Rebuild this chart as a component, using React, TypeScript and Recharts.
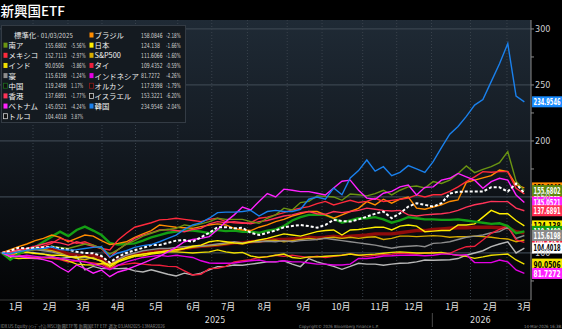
import React from 'react';
import { LineChart, Line, XAxis, YAxis, ReferenceLine } from 'recharts';

// ---------- data (normalised, 03/01/2025 = 100, weekly) ----------
const ZA = [100,99,101,102,103,104,106,105,104,106, 108,107,104,99,103,108,111,115,117.6,120, 121,122,125,124,126,128,131,130,130,130, 128,126.5,131,134,140,138.4,145,146,151,150.5, 150,147,152.7,152,151,153,156,151.8,156,159, 159.8,158,163.7,162,165,171,177.7,171.7,174.7,177, 180.6,190.5,164,155.6802];
const MX = [100,100.5,101,103,104,106,108.6,113,111,108.6, 110,107,104,102.7,111.6,117.6,123,125,127,129.5, 130,131,130,129,128,130,131,128,127,126.5, 127,131,132,134,136,138.4,140,141.4,144,146, 142.9,145,147,145,146,148.8,146,147,148,149, 151.8,150,152,152,155,159,163.7,168,172.6,172, 172.6,172.6,157.8,152.7113];
const IN = [100,96,95,95.5,95,96,96,95,93,90, 89.5,89.3,90.5,90,92,94.5,97,97.5,99,100, 101,101,100.5,100,100.5,101,102.7,101,100,100.5, 97.3,96,96.7,98,99,96,95.2,96.5,96.5,97, 97.5,98,99,98,98.5,99,99.7,100.5,101,100.5, 100,100,100,100.5,99,98,97,95.2,96.5,98, 98.5,99,93.75,90.0506];
const AU = [100,100,101,102,103,102,101,99,97,96, 96,95,93,89,94,98,100,102,103,104, 104,105,105.5,106,106,107,108,109,110,109, 110,110,110.5,110,111,110,111,111.5,112,113, 112,111,110,109,108,107,105.5,104.2,105.6,106, 106.5,105.6,108.6,109,110,112,114,115,116,118, 119,123,113,115.6198];
const CN = [100,94,99,103,105,110,114.6,119,115,120.5, 123.5,120,116,109,107.5,108,108.6,111,114,116, 118,119,120,120,119,117.6,120.5,119.5,120,119, 119,118,120,121,124,129,132,134,134,134, 131,127,129,131,131,132,130,127,129,132, 131,130,130,129.5,129.5,130,129,128,127,126, 126.5,124,117.6,119.2498];
const HK = [100,101,103,104,106,108,110,109,107,110, 108,106,104,96,103,108,113,116,118,120.5, 121,120,119,121,122,126,128,127,128,127, 126,128,129,131,133,134,136,137,135,134.5, 137,136,137,138,140,139,138,137.5,138,134, 133,134,134.5,135,136,138,141,143,144.4,146, 145.8,145.8,140,137.6891];
const VN = [100,96.7,97,96,95.2,94,92,87,83,89.3, 86,81.9,84.8,78.8,83,85,88,91,94,97, 101,105,110,112,113,114.6,121,128,134,141, 138.4,146,153,150,157,156,154.8,154.8,153.3,151.8, 158,164,165,156,149,148,153.3,155,159,160.7, 151.8,158.6,159,165,166.7,171,168,165,157.8,163.7, 166.7,165,151.8,145.0521];
const TR = [100,101,102,101,100,99,97,95,96,97, 84.8,88,86,86.3,86,86.3,84,83,85,83, 81,79.5,82,80.4,82,85,87.8,88,89.3,89, 90,91,92,92,93,90,87.8,95,92,90, 88,85.4,88,90.8,90,90,89,90,90.8,91, 92,93.75,93.5,93.75,94,95,98,100,102,105.6, 108,110,100,104.4018];
const BR = [100,103,105.6,108,111,113,116,114,110,113, 116,115,111,107.5,108.6,110,114,117,120,125, 124,123,122.5,122,123.5,125,126,125,122,120.5, 120,123,125,128,130,133,135,137,137,134, 131,134,137,139.8,145.8,142.9,148,144.4,148,150, 140,139,141,143,146,147.3,163,165,167,169, 174,172.6,160.7,158.0846];
const JP = [100,99,100,100.5,99.5,99,98,98,97,96, 97,95,93,88,93,96,98,99,100,101, 102,103,104,106,107,110,111,110,109,108.6, 110,111.6,113,115,117,116,115,117,119,120, 120.5,116,120.5,121,122,123,123,120.5,124,125, 124,119,119.5,120,120,125,125,126,132,138, 135,135,129,124.138];
const SP = [100,101,102,103,104,103,102,100,97,95, 94,96,92,86,92,95,97,99,100,101, 101.5,102,104,105,106,106.5,107,108,109,108, 110,110,111,111.5,110,111,112,113,112,113.5, 114,113,114,113,114,114.5,112,113,115,115, 114.6,115,115.5,115,114,114.6,114.5,115,114.6,114, 113,112.5,110,111.6066];
const TH = [100,99,98,97,96,96,95,94,92,93, 92,91,90,86,89,90,91,90,89.3,89, 88,87.8,84,80.4,81,86,86.3,88,92,93, 94,96,96.5,98,97,98,97,96,97,96, 97,98,99,98,97,98,98.5,99,100,99.5, 99,100,100.5,100,99.7,103,105.6,106,111.6,117.6, 121,124,111.6,109.4352];
const ID = [100,98,97,98,97,96,96.5,95,94,93, 92,90,88,85,89,92,94,96,97,98, 97,98,97,96,93,91,90.8,90.8,91,92, 93,93.75,92,92,93,92,92,91,90,90, 89.3,89.3,90,95.2,95,96,97.3,97.5,98,98, 98,97.5,98,99,99,98,98.5,91.4,91.4,91.4, 93.75,92,84.8,81.7272];
const AC = [100,101,102,103,104,103.5,103,102,99,98, 97,98,95,89,94,97,99,100,101,102, 102.5,103,104,105,106,106.5,107,108,109,109, 110,110.5,111.5,112,112,112.5,113,114,113.5,114, 115,114,115,115.5,116,117,117,117,118,119, 120,120,121,121.5,122,122.5,122.5,123,123,123, 122.5,122.5,119,117.9398];
const IL = [100,102,104.7,104,104.5,105,105.6,104,103,101, 100,99.7,97.3,91.4,96.7,100,102.5,104.5,107,107, 109,111,111.5,110,114,118,123,123,122,122.5, 118,116,118,120,123,124,125,124,122.6,125, 129.5,128.5,128,130,132.4,135,137,131,135.4,141.4, 144.4,143,141.4,144.4,153,154.7,154.8,154.8,154.8,158.6, 158.6,154.8,162,153.3221];
const KR = [100,99.5,101,102.5,103.5,104,105.5,103,102.5,103, 104,105,105.5,96.5,100,102,105,106.5,107.5,110, 113,116,121,125,127,131,136,136.5,136.5,137, 138,133,137,138,137,137,139,148,150,148, 158,152,167,173.5,183,173,177,169,172,178, 175,172,181.5,194,206,213,222,232,237,253, 269,287,240,234.9546];

const SERIES_DATA: Record<string, number[]> = { za: ZA, mx: MX, in: IN, au: AU, cn: CN, hk: HK, vn: VN, tr: TR, br: BR, jp: JP, sp: SP, th: TH, id: ID, ac: AC, il: IL, kr: KR };

const NAMES: Record<string, string> = { za: '南ア', mx: 'メキシコ', in: 'インド', au: '豪', cn: '中国', hk: '香港', vn: 'ベトナム', tr: 'トルコ', br: 'ブラジル', jp: '日本', sp: 'S&P500', th: 'タイ', id: 'インドネシア', ac: 'オルカン', il: 'イスラエル', kr: '韓国' };
const LAST_TEXT: Record<string, string> = { za: '155.6802', mx: '152.7113', in: '90.0506', au: '115.6198', cn: '119.2498', hk: '137.6891', vn: '145.0521', tr: '104.4018', br: '158.0846', jp: '124.138', sp: '111.6066', th: '109.4352', id: '81.7272', ac: '117.9398', il: '153.3221', kr: '234.9546' };
const PCT_TEXT: Record<string, string> = { za: '-5.56%', mx: '-2.97%', in: '-3.86%', au: '-1.24%', cn: '1.17%', hk: '-1.77%', vn: '-4.24%', tr: '3.87%', br: '-2.18%', jp: '-1.66%', sp: '-1.60%', th: '-0.59%', id: '-4.26%', ac: '-1.79%', il: '-6.20%', kr: '-2.04%' };

const COLORS: Record<string, string> = { za: '#6a9412', mx: '#ff2a3c', in: '#f0e000', au: '#8e8e8e', cn: '#149e14', hk: '#ff3358', vn: '#ff22ff', tr: '#b8b8b8', br: '#ff8c00', jp: '#ffee00', sp: '#d6ac00', th: '#ee1f3c', id: '#e400e4', ac: '#8e0b0b', il: '#ffffff', kr: '#1a80ec' };
const WIDTHS: Record<string, number> = { ac: 3.4, cn: 2.4, il: 2 };
const LABEL_BG: Record<string, string> = { za: '#5d8a10', mx: '#ff2a3c', in: '#f5e400', au: '#8a8a8a', cn: '#149e14', hk: '#ff2f52', vn: '#ff22ff', tr: '#ffffff', br: '#ff8c00', jp: '#ffee00', sp: '#d6ac00', th: '#ee1f3c', id: '#ff22ff', ac: '#8e0b0b', il: '#ffffff', kr: '#1a8cff' };
const LABEL_FG: Record<string, string> = { in: '#000', tr: '#000', br: '#000', jp: '#000', sp: '#000', il: '#000' };
const LEGEND_SWATCH: Record<string, string> = { cn: 'hollow', tr: 'hollow', ac: 'hollow', il: 'hollow' };

const DRAW_ORDER = ['ac', 'sp', 'au', 'tr', 'th', 'in', 'id', 'jp', 'cn', 'br', 'mx', 'hk', 'za', 'vn', 'il', 'kr'];
const LABEL_ORDER = ['il', 'mx', 'br', 'za', 'vn', 'hk', 'ac', 'sp', 'th', 'jp', 'cn', 'au', 'tr', 'in', 'id', 'kr'];
const LEG_LEFT = ['za', 'mx', 'in', 'au', 'cn', 'hk', 'vn', 'tr'];
const LEG_RIGHT = ['br', 'jp', 'sp', 'th', 'id', 'ac', 'il', 'kr'];

const MONTH_POS = [1.7, 5.8, 9.8, 14.0, 18.6, 23.1, 27.3, 31.7, 36.4, 40.9, 45.6, 49.7, 54.3, 58.9, 63.0];
const MONTH_LABELS = ['1月', '2月', '3月', '4月', '5月', '6月', '7月', '8月', '9月', '10月', '11月', '12月', '1月', '2月', '3月'];
const MONTH_GRID = [3.74, 7.96, 12.06, 16.1, 21.2, 25.3, 29.6, 34.4, 38.6, 43.5, 47.6, 51.8, 56.5, 60.9];
const YEAR_POS = [25.7, 51.9, 57.7];
const YEAR_LABELS = ['2025', '', '2026'];
const Y_TICKS = [75, 100, 125, 150, 175, 200, 225, 250, 275, 300];
const Y_GRID = [100, 150, 200, 250, 300];

const N = KR.length;
const LAST = N - 1;
const rows = Array.from({ length: N }, (_, i) => {
  const r: Record<string, number> = { i };
  Object.keys(SERIES_DATA).forEach((k) => { r[k] = SERIES_DATA[k][i]; });
  return r;
});

const NARROW = "'Liberation Sans Narrow', 'DejaVu Sans Condensed', 'Roboto', sans-serif";
const CJK = "'Noto Sans CJK JP', 'Noto Sans', sans-serif";

const makeLabel = (k: string) => (p: any) => {
  if (p.index !== LAST || p.cx == null) return <g key={`${k}-d-${p.index}`} />;
  const x0 = p.cx + 7.7;
  return (
    <g key={`${k}-lbl`}>
      <rect x={x0} y={p.cy - 5.5} width={30.3} height={11} fill={LABEL_BG[k]} />
      <text x={x0 + 15} y={p.cy + 3.4} textAnchor="middle" fontSize={9.5} fontWeight="bold" fontFamily={NARROW}
        fill={LABEL_FG[k] || '#fff'} textLength={27} lengthAdjust="spacingAndGlyphs">{LAST_TEXT[k]}</text>
    </g>
  );
};

const YearTick = (p: any) => {
  const idx = YEAR_POS.indexOf(p.payload.value);
  if (YEAR_LABELS[idx] === '') {
    return <line x1={p.x} x2={p.x} y1={p.y - 7} y2={p.y + 7} stroke="#4a4a4a" strokeWidth={1} />;
  }
  return <text x={p.x} y={p.y + 3} textAnchor="middle" fill="#dcdcdc" fontSize={9} fontFamily={NARROW}>{YEAR_LABELS[idx]}</text>;
};

const rowY = (r: number) => 35 + 10.15 * r;

const LegendRow = ({ k, r, col }: { k: string; r: number; col: number }) => {
  const y = rowY(r);
  const sx = col === 0 ? 3 : 89;
  const nameX = col === 0 ? 8.5 : 94.5;
  const valX = col === 0 ? 45 : 141;
  const pctX = col === 0 ? 71 : 166;
  const hollow = LEGEND_SWATCH[k] === 'hollow';
  const v = LAST_TEXT[k];
  const pc = PCT_TEXT[k];
  return (
    <g>
      <rect x={sx + 0.5} y={y - 2.5} width={4} height={5}
        fill={hollow ? '#111' : COLORS[k]} stroke={hollow ? (k === 'cn' ? '#1d6a1d' : k === 'ac' ? '#8e1b1b' : '#cfcfcf') : 'none'} strokeWidth={0.8} />
      <text x={nameX} y={y + 3} fontSize={7.4} fill="#f2f2f2" fontFamily={CJK}>{NAMES[k]}</text>
      <text x={valX} y={y + 2.5} fontSize={7} fill="#d2d2d2" fontFamily={NARROW} textLength={v.length * 2.7} lengthAdjust="spacingAndGlyphs">{v}</text>
      <text x={pctX} y={y + 2.5} fontSize={7} fill="#d2d2d2" fontFamily={NARROW} textLength={pc.length * 2.45} lengthAdjust="spacingAndGlyphs">{pc}</text>
    </g>
  );
};

export default function App() {
  return (
    <div style={{ position: 'fixed', left: 0, top: 0, width: 562, height: 329, background: '#000', overflow: 'hidden' }}>
      <div style={{ position: 'absolute', left: 0, top: 20, width: 531, height: 280, background: 'linear-gradient(to bottom, #1f2a35 0%, #151c24 40%, #0a0d11 75%, #030405 100%)' }} />
      <div style={{ position: 'absolute', left: 0, top: 0 }}>
        <LineChart width={562} height={329} data={rows} margin={{ top: 20, right: 0, bottom: 0, left: 0 }}>
          <XAxis xAxisId="m" dataKey="i" type="number" domain={[-0.24, 63.8]} ticks={MONTH_POS} interval={0}
            tickFormatter={(v: number) => MONTH_LABELS[MONTH_POS.indexOf(v)]}
            tickLine={false} tickSize={0} tickMargin={4} height={12}
            axisLine={{ stroke: '#3c3c3c' }} tick={{ fill: '#e2e2e2', fontSize: 9, fontFamily: CJK }} />
          <XAxis xAxisId="y" dataKey="i" type="number" domain={[-0.24, 63.8]} ticks={YEAR_POS} interval={0}
            tick={<YearTick />} tickLine={false} axisLine={false} height={17} />
          <YAxis orientation="right" width={31} type="number" domain={[58, 308]} ticks={Y_TICKS} interval={0}
            tickFormatter={(v: number) => (v % 50 === 0 ? String(v) : '')}
            tickSize={3} tickMargin={1} axisLine={{ stroke: '#8a8a8a' }} tickLine={{ stroke: '#8a8a8a' }}
            tick={{ fill: '#cfcfcf', fontSize: 9, fontFamily: NARROW, textAnchor: 'start' }} />
          {Y_GRID.map((v) => (
            <ReferenceLine key={`gy${v}`} xAxisId="m" y={v} stroke="#3a444f" strokeWidth={1.3} />
          ))}
          {MONTH_GRID.map((v) => (
            <ReferenceLine key={`gx${v}`} xAxisId="m" x={v} stroke="#39424c" strokeWidth={1} strokeDasharray="1 2" />
          ))}
          {DRAW_ORDER.map((k) => (
            <Line key={k} xAxisId="m" dataKey={k} type="linear" stroke={COLORS[k]} strokeWidth={WIDTHS[k] || 1.4}
              strokeDasharray={k === 'il' ? '3 2' : undefined} dot={false} activeDot={false} isAnimationActive={false} />
          ))}
          {LABEL_ORDER.map((k) => (
            <Line key={`l-${k}`} xAxisId="m" dataKey={k} type="linear" stroke="none" strokeWidth={0}
              dot={makeLabel(k)} activeDot={false} isAnimationActive={false} />
          ))}
        </LineChart>
      </div>
      <svg width={562} height={329} style={{ position: 'absolute', left: 0, top: 0, pointerEvents: 'none' }}>
        <text x={0.5} y={16} fontSize={13.5} fill="#ffffff" fontFamily={CJK} fontWeight={500}>新興国ETF</text>
        <rect x={1.5} y={25.5} width={184} height={97} fill="#141a20" stroke="#333b44" strokeWidth={1} />
        <text x={14} y={38} fontSize={7.4} fill="#e8e8e8" fontFamily={CJK}>標準化</text>
        <text x={37} y={37.5} fontSize={7} fill="#cfcfcf" fontFamily={NARROW} textLength={36} lengthAdjust="spacingAndGlyphs">- 01/03/2025</text>
        {LEG_LEFT.map((k, j) => <LegendRow key={k} k={k} r={j + 1} col={0} />)}
        {LEG_RIGHT.map((k, j) => <LegendRow key={k} k={k} r={j} col={1} />)}
        <text x={0.5} y={327.5} fontSize={4.3} fill="#8c8c8c" fontFamily={CJK}>IDX US Equity (ｲﾝﾃﾞｯｸｽ) MSCI新興ETF等  新興国ETF    ETF 週次 03JAN2025-13MAR2026</text>
        <text x={299} y={327.5} fontSize={4.3} fill="#8c8c8c" fontFamily={NARROW}>Copyright© 2026 Bloomberg Finance L.P.</text>
        <text x={524} y={327.5} fontSize={4.3} fill="#8c8c8c" fontFamily={NARROW}>14-Mar-2026 16:38:17</text>
      </svg>
    </div>
  );
}
